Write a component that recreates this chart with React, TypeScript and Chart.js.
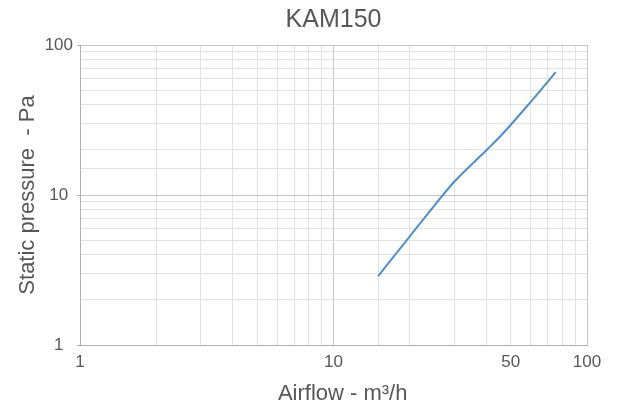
import React, { useEffect, useRef } from "react";
import { Chart, registerables } from "chart.js";

Chart.register(...registerables);

const chartTitle = "KAM150";
const xTitle = "\u00a0\u00a0\u00a0Airflow - m³/h";
const yTitle = "Static pressure  - Pa";
const airflow = [15, 20, 25, 30, 40, 46, 60, 75.3];
const pressure = [2.88, 5.3, 8.5, 12.3, 19.8, 25.1, 41.8, 66];
const xTickLabels = [1, 10, 50, 100];
const yTickLabels = [1, 10, 100];

const FONT = "'Liberation Sans', Arial, Helvetica, sans-serif";
const TEXT = "#575757";
const isDecade = (v: number) => Math.abs(Math.log10(v) - Math.round(Math.log10(v))) < 1e-9;

export default function App() {
  const ref = useRef<HTMLCanvasElement | null>(null);
  useEffect(() => {
    if (!ref.current) return;
    const chart = new Chart(ref.current, {
      type: "line",
      data: {
        datasets: [
          {
            data: airflow.map((x, i) => ({ x, y: pressure[i] })),
            borderColor: "#4f8dcb",
            borderWidth: 2,
            pointRadius: 0,
            cubicInterpolationMode: "monotone",
            fill: false,
          },
        ],
      },
      options: {
        responsive: false,
        animation: false,
        layout: { padding: { left: 0, right: 35, top: 0, bottom: 0 } },
        plugins: {
          legend: { display: false },
          tooltip: { enabled: false },
          title: {
            display: true,
            text: chartTitle,
            fullSize: false,
            color: TEXT,
            font: { family: FONT, size: 25, weight: "normal", lineHeight: 1.2 },
            padding: { top: 5, bottom: 10 },
          },
        },
        scales: {
          x: {
            type: "logarithmic",
            min: 1,
            max: 100,
            afterFit: (s: any) => {
              s.height = 64;
            },
            border: { color: "#b0b0b0", width: 1 },
            grid: {
              drawTicks: false,
              color: (c: any) => (c.tick && isDecade(c.tick.value) ? "#c6c6c6" : "#e2e2e2"),
            },
            ticks: {
              autoSkip: false,
              maxRotation: 0,
              padding: 7,
              color: TEXT,
              font: { family: FONT, size: 17 },
              callback: (v: any) => (xTickLabels.includes(Number(v)) ? String(v) : ""),
            },
            title: {
              display: true,
              text: xTitle,
              color: TEXT,
              font: { family: FONT, size: 22, lineHeight: 1.2 },
              padding: { top: 0, bottom: 2 },
            },
          },
          y: {
            type: "logarithmic",
            min: 1,
            max: 100,
            afterFit: (s: any) => {
              s.width = 80;
            },
            border: { color: "#b0b0b0", width: 1 },
            grid: {
              tickLength: 3,
              color: (c: any) => (c.tick && isDecade(c.tick.value) ? "#c6c6c6" : "#e2e2e2"),
              tickColor: (c: any) => (c.tick && isDecade(c.tick.value) ? "#b0b0b0" : "rgba(0,0,0,0)"),
            },
            ticks: {
              autoSkip: false,
              padding: 4,
              crossAlign: "center",
              color: TEXT,
              font: { family: FONT, size: 17 },
              callback: (v: any) => (yTickLabels.includes(Number(v)) ? String(v) : ""),
            },
            title: {
              display: true,
              text: yTitle,
              color: TEXT,
              font: { family: FONT, size: 22, lineHeight: 1.2 },
              padding: { top: 15, bottom: 0 },
            },
          },
        },
      },
    });
    return () => chart.destroy();
  }, []);
  return (
    <div style={{ position: "fixed", left: 0, top: 0, width: 622, height: 409, background: "#fff" }}>
      <canvas ref={ref} width={622} height={409} style={{ display: "block" }} />
    </div>
  );
}
